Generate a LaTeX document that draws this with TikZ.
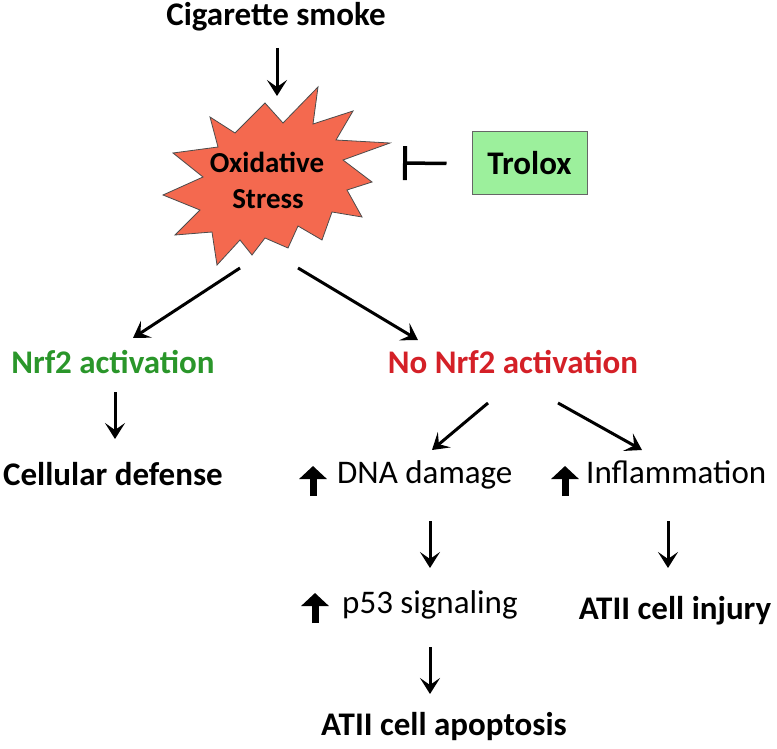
\documentclass[tikz,border=0pt]{standalone}
\usepackage{fontspec}
\setmainfont{Carlito}
\usetikzlibrary{arrows.meta}
\definecolor{starfill}{HTML}{F4694F}
\definecolor{trolfill}{HTML}{9CF09C}
\definecolor{nrfgreen}{HTML}{2A962A}
\definecolor{nrfred}{HTML}{D42027}
\tikzset{
  lbl/.style={font=\fontsize{33}{36}\selectfont\bfseries, inner sep=0pt, anchor=base},
  lblr/.style={font=\fontsize{33}{36}\selectfont, inner sep=0pt, anchor=base west},
  arr/.style={line width=3pt, -{Stealth[length=16pt,width=20pt,inset=7pt]}},
  uparr/.style={line width=7pt, -{Triangle[length=13pt,width=27pt]}},
  inhib/.style={line width=3.5pt, -{Bar[width=34pt,line width=4pt]}},
}
\begin{document}
\begin{tikzpicture}[x=1pt,y=-1pt]
\useasboundingbox (0,0) rectangle (777,749);
% starburst
\draw[fill=starfill, draw=black!70, line width=0.8pt]
 (318,87) -- (313,124) -- (353,111) -- (336,140) -- (390,143) -- (343,160)
 -- (372,182) -- (347,190) -- (362,217) -- (332,212) -- (322,240) -- (298,226)
 -- (288,248) -- (265,238) -- (252,255) -- (240,240) -- (217,265) -- (212,232)
 -- (175,235) -- (200,210) -- (163,195) -- (203,177) -- (173,153) -- (218,147)
 -- (210,117) -- (235,133) -- (265,103) -- (283,123) -- cycle;
\node[lbl, font=\fontsize{29}{30}\selectfont\bfseries] (ox) at (267,173) {Oxidative};
\node[lbl, font=\fontsize{29}{30}\selectfont\bfseries] (st) at (268,208) {Stress};

\node[lbl] (cig) at (276,26) {Cigarette smoke};
\node[draw=black!60, fill=trolfill, line width=1pt, minimum width=115pt, minimum height=63pt,
      font=\fontsize{33}{36}\selectfont\bfseries] (trolox) at (529.5,163.5) {Trolox};

\node[lbl, text=nrfgreen] (nrf) at (113,373) {Nrf2 activation};
\node[lbl, text=nrfred] (nonrf) at (513,373) {No Nrf2 activation};
\node[lbl] (cell) at (113,485) {Cellular defense};
\node[lblr] (dna) at (337,483) {DNA damage};
\node[lblr] (infl) at (586,483) {Inflammation};
\node[lblr] (p53) at (342,613) {p53 signaling};
\node[lbl] (inj) at (675,619) {ATII cell injury};
\node[lbl] (apo) at (444,735) {ATII cell apoptosis};

% connector end points
\coordinate (cigA) at (277,48);  \coordinate (starT) at (277,96);
\coordinate (starL) at (240,268); \coordinate (nrfT) at (133,338);
\coordinate (starR) at (298,268); \coordinate (nonrfT) at (418,340);
\coordinate (nrfB) at (115,392); \coordinate (cellT) at (115,439);
\coordinate (nonrfL) at (488,403); \coordinate (dnaT) at (432,450);
\coordinate (nonrfR) at (558,403); \coordinate (inflT) at (642,450);
\coordinate (dnaB) at (430,521); \coordinate (p53T) at (430,568);
\coordinate (inflB) at (668,521); \coordinate (injT) at (668,568);
\coordinate (p53B) at (430,647); \coordinate (apoT) at (430,694);
\coordinate (inh) at (403,163);

\draw[arr] (cigA) -- (starT);
\draw[arr] (starL) -- (nrfT);
\draw[arr] (starR) -- (nonrfT);
\draw[arr] (nrfB) -- (cellT);
\draw[arr] (nonrfL) -- (dnaT);
\draw[arr] (nonrfR) -- (inflT);
\draw[arr] (dnaB) -- (p53T);
\draw[arr] (inflB) -- (injT);
\draw[arr] (p53B) -- (apoT);
\draw[inhib] ([xshift=-25pt]trolox.west) -- (inh);

% up arrows
\coordinate (u1a) at (313,496); \coordinate (u1b) at (313,466);
\coordinate (u2a) at (565,496); \coordinate (u2b) at (565,466);
\coordinate (u3a) at (315,623); \coordinate (u3b) at (315,593);
\draw[uparr] (u1a) -- (u1b);
\draw[uparr] (u2a) -- (u2b);
\draw[uparr] (u3a) -- (u3b);
\end{tikzpicture}
\end{document}
